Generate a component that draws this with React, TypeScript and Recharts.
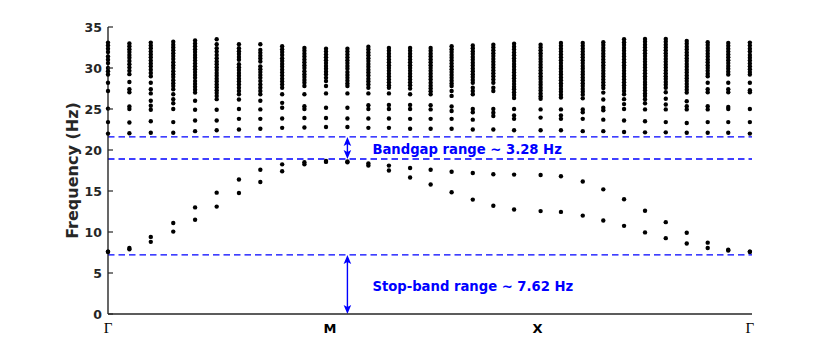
import React from "react";
import {
  ScatterChart,
  Scatter,
  XAxis,
  YAxis,
  ReferenceLine,
} from "recharts";

// positions along the Γ-M-X-Γ path (one per computed k-point)
const kPath = [
  0, 0.1, 0.2, 0.305, 0.407, 0.508, 0.612, 0.712, 0.814, 0.918, 1.019, 1.119,
  1.217, 1.313, 1.412, 1.508, 1.606, 1.705, 1.801, 1.898, 2.022, 2.117, 2.219,
  2.315, 2.412, 2.51, 2.607, 2.705, 2.803, 2.899, 3.0,
];

// two lowest bands (Hz)
const band1 = [
  7.6, 8.05, 9.4, 11.1, 13.0, 14.8, 16.4, 17.6, 18.25, 18.5, 18.65, 18.6,
  18.35, 18.1, 17.8, 17.6, 17.35, 17.2, 17.05, 17.0, 16.95, 16.8, 16.15, 15.2,
  14.0, 12.6, 11.2, 9.9, 8.7, 7.85, 7.6,
];
const band2 = [
  7.6, 7.9, 8.8, 10.05, 11.5, 13.1, 14.75, 16.1, 17.4, 18.25, 18.55, 18.5,
  18.1, 17.5, 16.65, 15.8, 14.85, 13.95, 13.2, 12.75, 12.55, 12.45, 12.0, 11.4,
  10.75, 9.95, 9.25, 8.6, 8.05, 7.75, 7.6,
];

// higher bands above the gap, one list per k-point (Hz)
const upperBands = [
  [33.1, 32.75, 32.35, 31.95, 31.4, 31.0, 30.6, 30.0, 29.6, 29.2, 28.2, 27.2, 25.05, 23.4, 22.0],
  [33.0, 32.65, 32.3, 31.95, 31.6, 31.25, 30.85, 30.45, 30.05, 29.65, 29.25, 28.3, 27.4, 27.05, 25.3, 25.0, 23.35, 22.05],
  [33.1, 32.75, 32.4, 32.0, 31.65, 31.3, 30.9, 30.55, 30.2, 29.8, 29.4, 29.0, 28.2, 27.4, 26.9, 26.0, 25.4, 24.9, 23.5, 22.1],
  [33.2, 32.85, 32.5, 32.15, 31.8, 31.45, 31.1, 30.7, 30.35, 30.0, 29.6, 29.25, 28.9, 28.5, 28.15, 27.8, 27.4, 26.8, 26.2, 25.7, 25.0, 23.4, 22.1],
  [33.35, 33.0, 32.65, 32.3, 31.95, 31.6, 31.25, 30.9, 30.55, 30.2, 29.85, 29.5, 29.15, 28.8, 28.4, 28.05, 27.7, 27.35, 27.0, 26.0, 24.9, 23.6, 22.3],
  [33.5, 32.9, 32.4, 32.0, 31.6, 31.2, 30.8, 30.45, 30.1, 29.75, 29.4, 29.05, 28.7, 28.35, 28.0, 27.65, 27.3, 26.95, 26.6, 26.2, 24.9, 23.6, 22.4],
  [32.9, 32.4, 32.05, 31.7, 31.35, 31.0, 30.45, 30.1, 29.75, 29.4, 29.05, 28.7, 28.35, 28.0, 27.6, 27.2, 26.8, 26.15, 25.0, 23.8, 22.5],
  [32.9, 32.2, 31.85, 31.5, 31.15, 30.8, 30.2, 29.85, 29.5, 29.15, 28.8, 28.4, 28.0, 27.6, 27.2, 26.8, 26.0, 24.95, 23.8, 22.6],
  [32.65, 32.3, 31.95, 31.6, 31.2, 30.85, 30.5, 30.15, 29.8, 29.45, 29.1, 28.7, 28.35, 28.0, 27.6, 26.8, 25.75, 25.15, 23.85, 22.7],
  [32.45, 32.1, 31.75, 31.4, 31.05, 30.7, 30.35, 30.0, 29.6, 29.25, 28.9, 28.55, 28.2, 27.8, 26.8, 25.35, 25.0, 23.9, 22.75],
  [32.35, 32.0, 31.65, 31.3, 30.95, 30.6, 30.25, 29.9, 29.55, 29.2, 28.8, 28.4, 27.8, 26.9, 25.15, 23.9, 22.8],
  [32.35, 32.0, 31.65, 31.3, 30.95, 30.6, 30.25, 29.9, 29.5, 29.15, 28.8, 28.45, 28.1, 27.8, 26.9, 25.15, 23.85, 22.8],
  [32.6, 32.25, 31.9, 31.55, 31.2, 30.85, 30.5, 30.15, 29.8, 29.45, 29.1, 28.7, 28.35, 28.0, 27.6, 26.9, 25.45, 25.0, 23.85, 22.7],
  [32.45, 32.1, 31.75, 31.4, 31.05, 30.7, 30.35, 30.0, 29.65, 29.3, 28.95, 28.6, 28.25, 27.9, 27.6, 26.9, 25.5, 25.0, 23.85, 22.7],
  [32.45, 32.1, 31.75, 31.4, 31.05, 30.7, 30.35, 30.0, 29.65, 29.3, 28.95, 28.6, 28.25, 27.9, 27.5, 26.8, 25.5, 25.0, 23.8, 22.6],
  [32.45, 32.1, 31.75, 31.4, 31.05, 30.7, 30.35, 30.0, 29.65, 29.3, 28.95, 28.6, 28.2, 27.85, 27.5, 27.15, 26.8, 25.45, 24.95, 23.8, 22.6],
  [32.65, 32.3, 31.95, 31.6, 31.25, 30.9, 30.55, 30.2, 29.85, 29.5, 29.15, 28.8, 28.45, 28.1, 27.8, 27.2, 26.6, 25.3, 24.75, 23.8, 22.6],
  [32.75, 32.4, 32.05, 31.7, 31.35, 31.0, 30.65, 30.3, 29.95, 29.6, 29.25, 28.9, 28.55, 28.2, 27.6, 27.2, 26.8, 25.0, 24.6, 23.7, 22.5],
  [32.85, 32.5, 32.15, 31.8, 31.45, 31.1, 30.75, 30.4, 30.05, 29.7, 29.35, 29.0, 28.6, 28.2, 27.6, 27.2, 25.0, 24.55, 24.15, 22.5],
  [32.95, 32.6, 32.25, 31.9, 31.55, 31.2, 30.85, 30.5, 30.15, 29.8, 29.45, 29.1, 28.75, 28.4, 28.05, 27.7, 27.4, 27.05, 26.7, 26.35, 25.0, 24.2, 23.8, 22.4],
  [32.85, 32.5, 32.15, 31.8, 31.45, 31.1, 30.75, 30.4, 30.05, 29.7, 29.35, 29.0, 28.65, 28.3, 27.95, 27.6, 27.25, 26.9, 26.55, 26.25, 24.95, 23.95, 22.4],
  [33.05, 32.7, 32.35, 32.0, 31.65, 31.3, 30.95, 30.6, 30.25, 29.9, 29.55, 29.2, 28.85, 28.5, 28.15, 27.8, 27.45, 27.1, 26.75, 26.4, 24.95, 24.2, 23.8, 22.4],
  [33.05, 32.7, 32.35, 32.0, 31.65, 31.3, 30.95, 30.6, 30.25, 29.9, 29.55, 29.2, 28.85, 28.5, 28.15, 27.8, 27.45, 27.1, 26.75, 26.3, 24.95, 24.6, 23.8, 22.3],
  [33.15, 32.8, 32.45, 32.1, 31.75, 31.4, 31.05, 30.7, 30.35, 30.0, 29.65, 29.3, 28.95, 28.6, 28.25, 27.9, 27.55, 27.0, 26.15, 25.15, 24.85, 23.7, 22.3],
  [33.5, 33.15, 32.8, 32.45, 32.1, 31.75, 31.4, 31.05, 30.7, 30.35, 30.0, 29.65, 29.3, 28.95, 28.6, 28.25, 27.9, 27.55, 27.2, 26.8, 26.2, 25.6, 25.0, 23.6, 22.2],
  [33.55, 33.2, 32.85, 32.5, 32.15, 31.8, 31.45, 31.1, 30.75, 30.4, 30.05, 29.7, 29.35, 29.0, 28.65, 28.3, 27.95, 27.6, 27.25, 26.9, 26.6, 26.2, 25.7, 24.95, 23.5, 22.15],
  [33.55, 33.2, 32.85, 32.5, 32.15, 31.8, 31.45, 31.1, 30.75, 30.4, 30.05, 29.7, 29.35, 29.0, 28.65, 28.3, 27.95, 27.6, 27.05, 26.25, 25.55, 24.95, 23.4, 22.15],
  [33.3, 32.95, 32.6, 32.25, 31.9, 31.55, 31.2, 30.85, 30.5, 30.15, 29.8, 29.45, 29.1, 28.75, 28.4, 28.05, 27.7, 27.35, 27.0, 25.95, 25.35, 24.95, 23.3, 22.1],
  [33.15, 32.8, 32.45, 32.1, 31.75, 31.4, 31.05, 30.7, 30.35, 30.0, 29.65, 29.3, 29.0, 28.2, 27.4, 27.05, 25.35, 24.95, 23.4, 22.1],
  [33.05, 32.7, 32.35, 32.0, 31.65, 31.3, 30.95, 30.6, 30.25, 29.9, 29.55, 29.2, 28.2, 27.4, 27.05, 25.25, 25.0, 23.4, 22.1],
  [33.1, 32.75, 32.35, 32.0, 31.6, 31.25, 30.9, 30.55, 30.2, 29.85, 29.5, 29.2, 28.2, 27.3, 27.05, 25.0, 23.4, 22.0],
];

const symTicks = [0, 1.038, 2.008, 3.0];
const symLabels = ["Γ", "M", "X", "Γ"];
const yTicks = [0, 5, 10, 15, 20, 25, 30, 35];

const gapEdges = [7.2, 18.9, 21.6];
const bandgapText = "Bandgap range ~ 3.28 Hz";
const stopbandText = "Stop-band range ~ 7.62 Hz";

const BLUE = "#0000ff";
const AXIS = "#262626";
const SANS = "'DejaVu Sans', sans-serif";

const points: { k: number; f: number }[] = [];
kPath.forEach((k, i) => {
  points.push({ k, f: band1[i] });
  points.push({ k, f: band2[i] });
  upperBands[i].forEach((f) => points.push({ k, f }));
});

const Dot = (props: any) => (
  <circle cx={props.cx} cy={props.cy} r={2.2} fill="#000" />
);

const YTick = ({ x, y, payload }: any) => (
  <g>
    <line x1={x + 6} x2={x + 11} y1={y} y2={y} stroke={AXIS} strokeWidth={1.2} />
    <text
      x={x}
      y={y}
      dy="0.36em"
      textAnchor="end"
      fill={AXIS}
      fontFamily={SANS}
      fontWeight="bold"
      fontSize={12.5}
    >
      {payload.value}
    </text>
  </g>
);

const XTick = ({ x, y, payload }: any) => {
  const idx = symTicks.indexOf(payload.value);
  const label = symLabels[idx] ?? "";
  const greek = label === "Γ";
  return (
    <text
      x={x}
      y={y + 19}
      textAnchor="middle"
      fill="#000"
      fontFamily={greek ? "'Liberation Serif', 'DejaVu Serif', serif" : SANS}
      fontWeight={greek ? "normal" : "bold"}
      fontSize={greek ? 15 : 13}
    >
      {label}
    </text>
  );
};

const makeArrow = (text: string) => (props: any) => {
  const x = props.x1;
  const top = Math.min(props.y1, props.y2);
  const bottom = Math.max(props.y1, props.y2);
  const mid = (top + bottom) / 2;
  return (
    <g>
      <line x1={x} x2={x} y1={top + 5} y2={bottom - 5} stroke={BLUE} strokeWidth={1.4} />
      <polygon
        points={`${x},${top} ${x - 3.8},${top + 9} ${x},${top + 7} ${x + 3.8},${top + 9}`}
        fill={BLUE}
      />
      <polygon
        points={`${x},${bottom} ${x - 3.8},${bottom - 9} ${x},${bottom - 7} ${x + 3.8},${bottom - 9}`}
        fill={BLUE}
      />
      <text
        x={x + 25}
        y={mid + 2}
        dominantBaseline="central"
        fill={BLUE}
        fontFamily={SANS}
        fontWeight="bold"
        fontSize={13.2}
      >
        {text}
      </text>
    </g>
  );
};

export default function App() {
  const mPoint = kPath[11];
  return (
    <div style={{ width: 830, height: 354, background: "#fff" }}>
      <style>{`body{margin:0}`}</style>
      <ScatterChart
        width={830}
        height={354}
        margin={{ top: 27, right: 78, bottom: 10, left: 0 }}
      >
        <XAxis
          type="number"
          dataKey="k"
          domain={[0, 3.01]}
          ticks={symTicks}
          interval={0}
          height={30}
          tickSize={0}
          tickMargin={0}
          tick={<XTick />}
          axisLine={{ stroke: AXIS, strokeWidth: 1.4 }}
        />
        <YAxis
          type="number"
          dataKey="f"
          domain={[0, 35]}
          ticks={yTicks}
          interval={0}
          width={108}
          tickSize={0}
          tickMargin={6}
          tick={<YTick />}
          axisLine={{ stroke: AXIS, strokeWidth: 1.4 }}
          label={{
            value: "Frequency (Hz)",
            angle: -90,
            position: "center",
            dx: 18,
            style: {
              fontFamily: SANS,
              fontWeight: "bold",
              fontSize: 16,
              fill: AXIS,
            },
          }}
        />
        <Scatter data={points} shape={<Dot />} isAnimationActive={false} />
        {gapEdges.map((g) => (
          <ReferenceLine
            key={g}
            y={g}
            stroke={BLUE}
            strokeWidth={1.3}
            strokeDasharray="6.5 4"
          />
        ))}
        <ReferenceLine
          segment={[
            { x: mPoint, y: gapEdges[1] },
            { x: mPoint, y: gapEdges[2] },
          ]}
          shape={makeArrow(bandgapText)}
        />
        <ReferenceLine
          segment={[
            { x: mPoint, y: 0 },
            { x: mPoint, y: gapEdges[0] },
          ]}
          shape={makeArrow(stopbandText)}
        />
      </ScatterChart>
    </div>
  );
}
